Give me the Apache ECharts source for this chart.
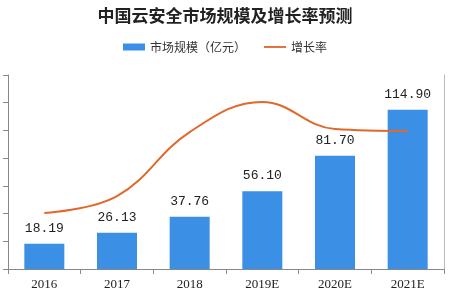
<!DOCTYPE html>
<html><head><meta charset="utf-8">
<script src="https://cdn.jsdelivr.net/npm/echarts@6/dist/echarts.min.js"></script>
<style>html,body{margin:0;padding:0;background:#fff}#c{width:450px;height:300px}</style>
</head><body><div id="c"></div>
<script>
var categories = ['2016', '2017', '2018', '2019E', '2020E', '2021E'];
var marketSize = [18.19, 26.13, 37.76, 56.10, 81.70, 114.90];
var growthRate = [20.2, 26.3, 49.4, 60.3, 50.5, 49.8];
var labelFmt = function (p) { return p.value.toFixed(2); };

var chart = echarts.init(document.getElementById('c'));
chart.setOption({
  animation: false,
  title: {
    text: '中国云安全市场规模及增长率预测',
    left: 'center', top: 2,
    textStyle: { fontSize: 17, fontWeight: 'bold', color: '#222', fontFamily: 'Noto Sans CJK SC' }
  },
  legend: {
    top: 36, left: 'center', itemGap: 18, itemWidth: 22, itemHeight: 7,
    textStyle: { fontSize: 12, color: '#333', fontFamily: 'Noto Sans CJK SC' },
    data: [{ name: '市场规模（亿元）', icon: 'rect' },
           { name: '增长率', icon: 'path://M0 0H24V2H0Z' }]
  },
  grid: { left: 8, right: 6, top: 75, bottom: 31, containLabel: false },
  xAxis: {
    type: 'category', data: categories,
    axisLine: { lineStyle: { color: '#888' } },
    axisTick: { show: true, length: 5, lineStyle: { color: '#888' } },
    axisLabel: { color: '#222', fontSize: 13, margin: 9, fontFamily: 'Liberation Serif' }
  },
  yAxis: [
    { type: 'value', min: 0, max: 140, interval: 20,
      axisLine: { show: true, lineStyle: { color: '#888' } },
      axisTick: { show: true, length: 5, lineStyle: { color: '#888' } },
      axisLabel: { show: false }, splitLine: { show: false } },
    { type: 'value', min: 0, max: 70, interval: 10, position: 'right',
      axisLine: { show: true, lineStyle: { color: '#bbb' } },
      axisTick: { show: false }, axisLabel: { show: false }, splitLine: { show: false } }
  ],
  series: [
    { name: '市场规模（亿元）', type: 'bar', data: marketSize, barWidth: 40,
      itemStyle: { color: '#3b8fe5' },
      label: { show: true, position: 'top', distance: 9, formatter: labelFmt,
        color: '#222', fontSize: 13, fontFamily: 'Liberation Mono' } },
    { name: '增长率', type: 'line', yAxisIndex: 1, data: growthRate, smooth: 0.4,
      symbol: 'none', lineStyle: { color: '#e2672b', width: 2 }, itemStyle: { color: '#e2672b' } }
  ]
});
</script></body></html>
